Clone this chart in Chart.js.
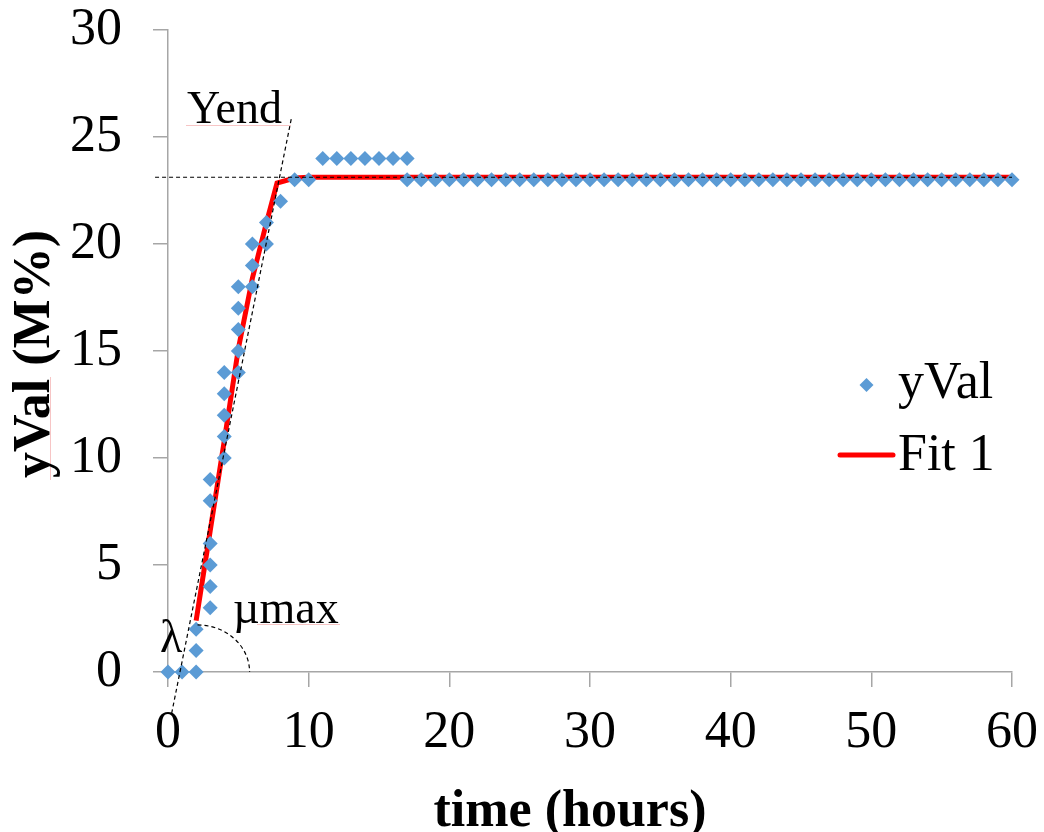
<!DOCTYPE html>
<html><head><meta charset="utf-8">
<script src="https://cdn.jsdelivr.net/npm/chart.js@4/dist/chart.umd.min.js"></script>
<style>html,body{margin:0;padding:0;background:#fff;}#wrap{width:1044px;height:832px;position:relative;}</style>
</head><body><div id="wrap"><canvas id="c" width="1044" height="832"></canvas></div>
<script>
// ---- data ----
const timeHours = [0,1,2,2,2, 3,3,3,3,3,3, 4,4,4,4,4, 5,5,5,5,5, 6,6,6, 7,7, 8, 9,10,
  11,12,13,14,15,16,17,
  17,18,19,20,21,22,23,24,25,26,27,28,29,30,31,32,33,34,35,36,37,38,39,40,41,42,43,44,45,46,47,48,49,50,51,52,53,54,55,56,57,58,59,60];
const yValues = [0,0,0,1,2, 3,4,5,6,8,9, 10,11,12,13,14, 14,15,16,17,18, 18,19,20, 20,21, 22, 23,23,
  24,24,24,24,24,24,24,
  23,23,23,23,23,23,23,23,23,23,23,23,23,23,23,23,23,23,23,23,23,23,23,23,23,23,23,23,23,23,23,23,23,23,23,23,23,23,23,23,23,23,23,23];
const fitX = [2, 3, 4, 5, 6, 7, 7.75, 9, 10, 60];
const fitY = [2.4, 6.6, 10.8, 15.1, 18.4, 21.0, 22.85, 23.08, 23.12, 23.12];
const tangentX = [0.26, 8.79];
const tangentY = [-1.93, 25.93];
const yendX = [-0.92, 60];
const yendY = [23.12, 23.12];
const arcCenter = [2.1, 0];
const arcRadius = [3.7, 2.2];
const xTicks = [0,10,20,30,40,50,60];
const yTicks = [0,5,10,15,20,25,30];

const pts = (xs, ys) => xs.map((v,i)=>({x:v, y:ys[i]}));
const SERIF = "'Liberation Serif', 'Times New Roman', serif";
const AXIS_GRAY = '#A6A6A6';
const BLUE = '#5B9BD5';
const RED = '#FF0000';

const overlay = {
  id: 'overlay',
  afterDatasetsDraw(chart){
    const {ctx, scales:{x, y}} = chart;
    ctx.save();
    // mu-max arc
    const cx = x.getPixelForValue(arcCenter[0]), cy = y.getPixelForValue(arcCenter[1]);
    const rx = x.getPixelForValue(arcCenter[0] + arcRadius[0]) - cx;
    const ry = cy - y.getPixelForValue(arcCenter[1] + arcRadius[1]);
    ctx.setLineDash([4,3]); ctx.strokeStyle = '#000'; ctx.lineWidth = 1.2;
    ctx.beginPath(); ctx.ellipse(cx, cy, rx, ry, 0, -Math.PI/2, 0); ctx.stroke();
    ctx.setLineDash([]);
    // annotation labels
    ctx.fillStyle = '#000';
    ctx.font = '46px ' + SERIF;
    ctx.textAlign = 'left'; ctx.textBaseline = 'alphabetic';
    ctx.fillText('Yend', 187, 123);
    ctx.fillText('\u00B5max', 233, 623);
    ctx.fillText('\u03BB', 160, 652);
    // faint spell-check underlines
    ctx.strokeStyle = 'rgba(240,150,150,0.55)'; ctx.lineWidth = 1;
    ctx.beginPath(); ctx.moveTo(186, 125.5); ctx.lineTo(291, 125.5); ctx.stroke();
    ctx.beginPath(); ctx.moveTo(257, 624.5); ctx.lineTo(340, 624.5); ctx.stroke();
    ctx.beginPath(); ctx.moveTo(50.5, 377); ctx.lineTo(50.5, 480); ctx.stroke();
    ctx.restore();
  },
  afterDraw(chart){
    const {ctx} = chart;
    ctx.save();
    ctx.fillStyle = '#000';
    // axis titles
    ctx.font = 'bold 52px ' + SERIF;
    ctx.textAlign = 'center'; ctx.textBaseline = 'alphabetic';
    ctx.fillText('time (hours)', 570, 826);
    ctx.translate(49, 354); ctx.rotate(-Math.PI/2);
    ctx.fillText('yVal (M%)', 0, 0);
    ctx.restore();
    // legend
    ctx.save();
    ctx.fillStyle = BLUE;
    const mx = 866.5, my = 385, r = 7;
    ctx.beginPath(); ctx.moveTo(mx - r, my); ctx.lineTo(mx, my - r); ctx.lineTo(mx + r, my); ctx.lineTo(mx, my + r); ctx.closePath(); ctx.fill();
    ctx.strokeStyle = RED; ctx.lineWidth = 5; ctx.lineCap = 'round';
    ctx.beginPath(); ctx.moveTo(840, 455); ctx.lineTo(893, 455); ctx.stroke();
    ctx.fillStyle = '#000';
    ctx.font = '52px ' + SERIF; ctx.textAlign = 'left'; ctx.textBaseline = 'alphabetic';
    ctx.fillText('yVal', 898, 398);
    ctx.fillText('Fit 1', 898, 470);
    ctx.restore();
  }
};

function fixBox(s, prop, val){
  s[prop] = val;
  s.paddingTop = 0; s.paddingBottom = 0; s.paddingLeft = 0; s.paddingRight = 0;
}

new Chart(document.getElementById('c'), {
  type: 'scatter',
  data: {
    datasets: [
      { label: 'Yend', data: pts(yendX, yendY), showLine: true, borderColor: '#000', borderWidth: 1.2, borderDash: [4,3], pointRadius: 0, order: 0, clip: false },
      { label: 'tangent', data: pts(tangentX, tangentY), showLine: true, borderColor: '#000', borderWidth: 1.2, borderDash: [4,3], pointRadius: 0, order: 0, clip: false },
      { label: 'yVal', data: pts(timeHours, yValues), showLine: false, pointStyle: 'rectRot', pointRadius: 7.5, pointHoverRadius: 7.5, backgroundColor: BLUE, borderColor: BLUE, pointBorderWidth: 0, order: 1, clip: false },
      { label: 'Fit 1', data: pts(fitX, fitY), showLine: true, borderColor: RED, borderWidth: 5, pointRadius: 0, tension: 0, order: 2, clip: false }
    ]
  },
  options: {
    responsive: false,
    animation: false,
    devicePixelRatio: 1,
    layout: { padding: { top: 30, right: 32, left: 0, bottom: 0 } },
    plugins: { legend: { display: false }, tooltip: { enabled: false } },
    scales: {
      x: {
        type: 'linear', min: 0, max: 60,
        afterFit(s){ fixBox(s, 'height', 160); },
        afterBuildTicks(s){ s.ticks = xTicks.map(v=>({value:v})); },
        border: { display: true, color: AXIS_GRAY, width: 1.5 },
        grid: { display: true, drawOnChartArea: false, drawTicks: true, tickLength: 15, color: AXIS_GRAY, lineWidth: 1.5 },
        ticks: { color: '#000', font: { family: SERIF, size: 52 }, padding: 15, maxRotation: 0, autoSkip: false },
        title: { display: false }
      },
      y: {
        type: 'linear', min: 0, max: 30,
        afterFit(s){ fixBox(s, 'width', 168); },
        afterBuildTicks(s){ s.ticks = yTicks.map(v=>({value:v})); },
        border: { display: true, color: AXIS_GRAY, width: 1.5 },
        grid: { display: true, drawOnChartArea: false, drawTicks: true, tickLength: 15, color: AXIS_GRAY, lineWidth: 1.5 },
        ticks: { color: '#000', font: { family: SERIF, size: 52 }, padding: 31, autoSkip: false },
        title: { display: false }
      }
    }
  },
  plugins: [overlay]
});
</script>
</body></html>
